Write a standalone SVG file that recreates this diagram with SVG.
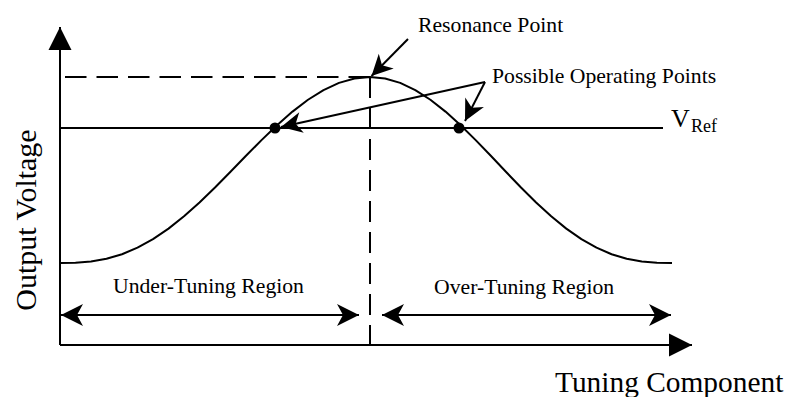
<svg xmlns="http://www.w3.org/2000/svg" width="787" height="397" viewBox="0 0 787 397">
  <style>
    .ln { fill: none; stroke: #000; stroke-width: 2; }
    .dash { fill: none; stroke: #000; stroke-width: 2; stroke-dasharray: 21.5 10; }
    .lbl { font-family: "Liberation Serif", "Times New Roman", serif; fill: #000; }
    .small { font-size: 21.7px; }
    .axis-title { font-size: 29.4px; }
    .dot { fill: #000; }
  </style>
  <defs>
    <!-- plain triangular head for the axes -->
    <marker id="axis-head" markerUnits="userSpaceOnUse" viewBox="-24 -12 25 24" markerWidth="25" markerHeight="24" refX="0" refY="0" orient="auto">
      <path d="M0,0 L-23,-11.5 L-23,11.5 Z" fill="#000"/>
    </marker>
    <!-- swept head for dimension and pointer arrows -->
    <marker id="sweep-head" markerUnits="userSpaceOnUse" viewBox="-23 -12 24 24" markerWidth="24" markerHeight="24" refX="0" refY="0" orient="auto-start-reverse">
      <path d="M0,0 L-22,-11 L-16,0 L-22,11 Z" fill="#000"/>
    </marker>
    <marker id="pointer-head" markerUnits="userSpaceOnUse" viewBox="-22 -12 23 24" markerWidth="23" markerHeight="24" refX="0" refY="0" orient="auto">
      <path d="M0,0 L-21,-10.5 L-15,0 L-21,10.5 Z" fill="#000"/>
    </marker>
  </defs>

  <rect width="787" height="397" fill="#fff"/>

  <!-- coordinate axes -->
  <g id="axes">
    <line class="ln" x1="60" y1="345" x2="60" y2="27" marker-end="url(#axis-head)"/>
    <line class="ln" x1="60" y1="345" x2="692" y2="345" marker-end="url(#axis-head)"/>
  </g>

  <!-- dashed guides through the resonance peak -->
  <g id="guides">
    <line class="dash" x1="370" y1="77" x2="65" y2="77"/>
    <line class="dash" x1="370" y1="77" x2="370" y2="345" style="stroke-dasharray: 21 10"/>
  </g>

  <!-- reference voltage level -->
  <g id="vref-line">
    <line class="ln" x1="60" y1="128" x2="663" y2="128"/>
  </g>

  <!-- output voltage vs. tuning component -->
  <g id="response-curve">
    <path class="ln" stroke-linejoin="round" d="M60,263 L75.5,262.75 L91,261.5 L106.5,258.77 L122,254.22 L137.5,247.69 L153,239.14 L168.5,228.61 L184,216.3 L199.5,202.46 L215,187.47 L230.5,171.75 L246,155.81 L261.5,140.11 L277,125.21 L292.5,111.61 L308,99.75 L323.5,90.08 L339,82.9 L354.5,78.49 L370,77 L385.1,78.49 L400.2,82.9 L415.3,90.08 L430.4,99.75 L445.5,111.61 L460.6,125.21 L475.7,140.11 L490.8,155.81 L505.9,171.75 L521,187.47 L536.1,202.46 L551.2,216.3 L566.3,228.61 L581.4,239.14 L596.5,247.69 L611.6,254.22 L626.7,258.77 L641.8,261.5 L656.9,262.75 L672,263"/>
  </g>

  <!-- operating points where the curve meets VRef -->
  <g id="operating-point-left">
    <circle class="dot" cx="275" cy="128" r="5.5"/>
  </g>
  <g id="operating-point-right">
    <circle class="dot" cx="459" cy="128" r="5.5"/>
  </g>

  <!-- pointer and dimension arrows -->
  <g id="connectors">
    <line class="ln" x1="408" y1="39" x2="371.5" y2="76" marker-end="url(#pointer-head)"/>
    <line class="ln" x1="485" y1="82" x2="281" y2="127" marker-end="url(#pointer-head)"/>
    <line class="ln" x1="485" y1="82" x2="465" y2="121" marker-end="url(#pointer-head)"/>
    <line class="ln" x1="61" y1="315" x2="359" y2="315" marker-start="url(#sweep-head)" marker-end="url(#sweep-head)"/>
    <line class="ln" x1="382" y1="315" x2="671" y2="315" marker-start="url(#sweep-head)" marker-end="url(#sweep-head)"/>
  </g>

  <!-- labels -->
  <g id="label-resonance">
    <text class="lbl small" x="418" y="32">Resonance Point</text>
  </g>
  <g id="label-operating">
    <text class="lbl small" x="492" y="83">Possible Operating Points</text>
  </g>
  <g id="label-vref">
    <text class="lbl" x="671" y="127" font-size="26">V<tspan x="691" y="132" font-size="18">Ref</tspan></text>
  </g>
  <g id="label-under">
    <text class="lbl small" x="113" y="293">Under-Tuning Region</text>
  </g>
  <g id="label-over">
    <text class="lbl small" x="434" y="294">Over-Tuning Region</text>
  </g>
  <g id="label-x-axis">
    <text class="lbl axis-title" x="555" y="392">Tuning Component</text>
  </g>
  <g id="label-y-axis">
    <text class="lbl" font-size="30" text-anchor="middle" transform="translate(36,220) rotate(-90)">Output Voltage</text>
  </g>
</svg>
